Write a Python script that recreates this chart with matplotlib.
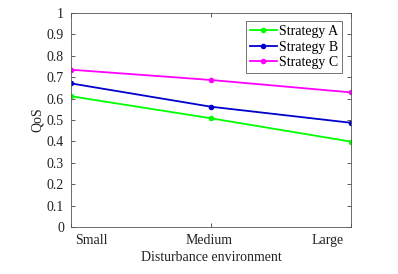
import matplotlib
matplotlib.use("Agg")
import matplotlib.pyplot as plt
from matplotlib.transforms import ScaledTranslation

categories = ["Small", "Medium", "Large"]
strategy_a = [0.611, 0.508, 0.399]
strategy_b = [0.671, 0.562, 0.487]
strategy_c = [0.735, 0.687, 0.629]
series_names = ["Strategy A", "Strategy B", "Strategy C"]
colors = ["#00ff00", "#0000cc", "#ff00ff"]

plt.rcParams['font.family'] = ['Liberation Serif', 'DejaVu Serif']
fig = plt.figure(figsize=(3.98, 2.74), dpi=100)
ax = fig.add_axes([71/398, 1-227/274, 280/398, 214/274])

x = [1, 2, 3]
for vals, name, c in zip([strategy_a, strategy_b, strategy_c], series_names, colors):
    ax.plot(x, vals, color=c, marker='o', markersize=3, linewidth=1.3, label=name)

ax.set_xlim(1, 3)
ax.set_ylim(0, 1)
ax.set_xticks(x)
ax.set_xticklabels(categories)
ax.set_yticks([i/10 for i in range(11)])
ax.set_yticklabels(["0", "0.1", "0.2", "0.3", "0.4", "0.5", "0.6", "0.7", "0.8", "0.9", "1"])
ax.tick_params(direction='in', top=True, right=True, labelsize=10, length=3, width=0.6,
               colors='#404040', labelcolor='#222222')
ax.tick_params(axis='x', pad=5)
ax.tick_params(axis='y', pad=5)
offsets = [20, -2, -23]
for lab, dx in zip(ax.get_xticklabels(), offsets):
    lab.set_transform(lab.get_transform() + ScaledTranslation(dx/100, 0, fig.dpi_scale_trans))
for s in ax.spines.values():
    s.set_linewidth(0.6)
    s.set_color('#555555')
ax.set_xlabel("Disturbance environment", fontsize=10, color='#222222', labelpad=3)
ax.set_ylabel("QoS", fontsize=10, color='#222222', labelpad=2)
leg = ax.legend(loc='upper right', fontsize=10, frameon=True, fancybox=False,
                edgecolor='#333333', handlelength=1.9, borderpad=0.3, labelspacing=0.18,
                handletextpad=0.15, borderaxespad=0, bbox_to_anchor=(0.968, 0.963))
leg.get_frame().set_linewidth(0.6)
fig.savefig("out.png", dpi=100)
